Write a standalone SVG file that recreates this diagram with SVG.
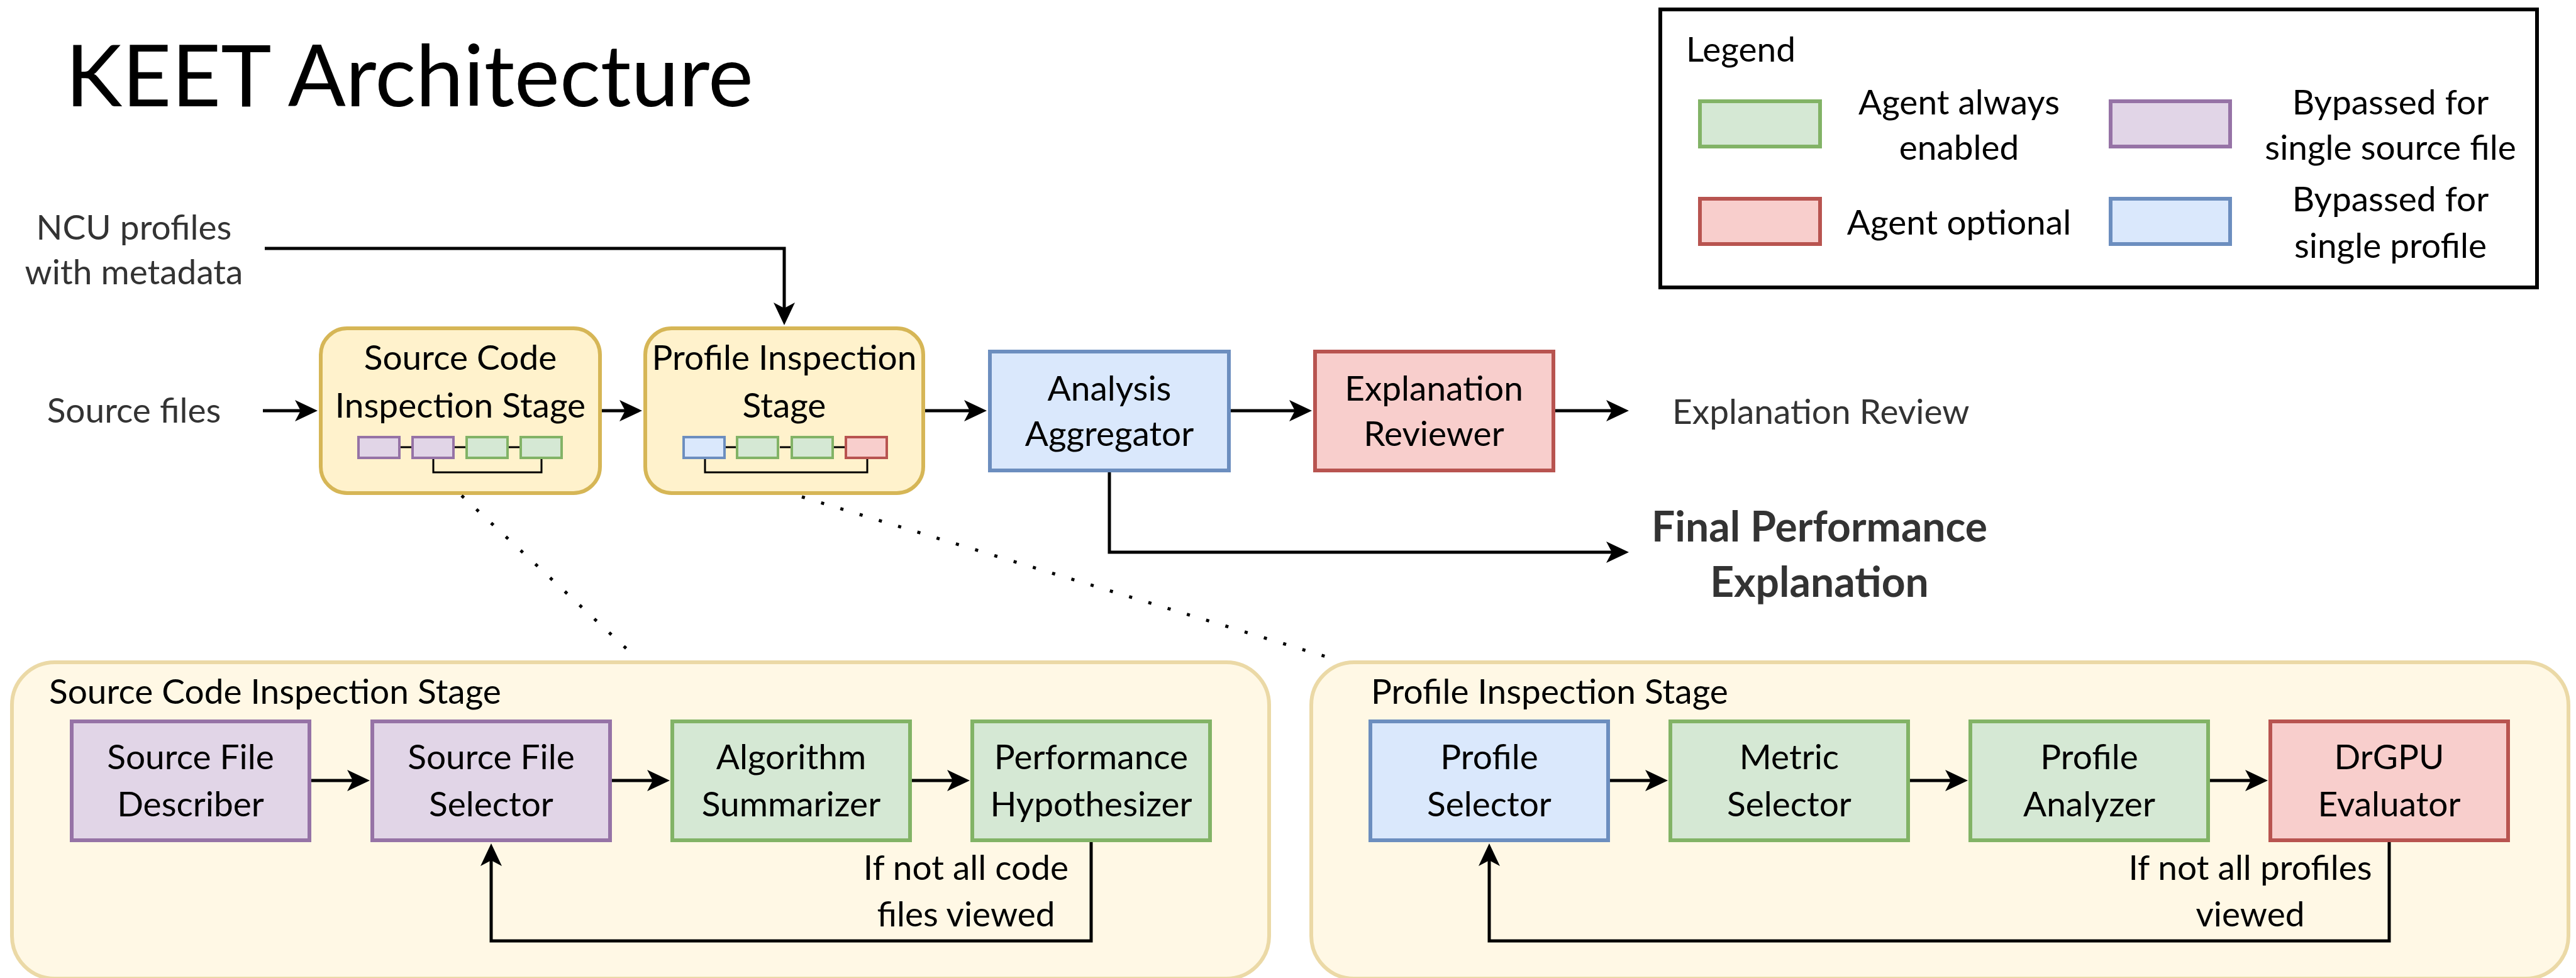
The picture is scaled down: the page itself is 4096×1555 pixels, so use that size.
<svg xmlns="http://www.w3.org/2000/svg" width="4096" height="1555" viewBox="0 0 4096 1555">
<defs>
<style>
text{font-family:Lato,"Open Sans","Liberation Sans",sans-serif;font-size:55px;fill:#000}
.c{text-anchor:middle}
.g{fill:#333333}
.green{fill:#d5e8d4;stroke:#82b366;stroke-width:6}
.purple{fill:#e1d5e7;stroke:#9673a6;stroke-width:6}
.red{fill:#f8cecc;stroke:#b85450;stroke-width:6}
.blue{fill:#dae8fc;stroke:#6c8ebf;stroke-width:6}
.stage{fill:#fff2cc;stroke:#d6b656;stroke-width:6}
.cont{fill:#fff8e5;stroke:#ebd9a6;stroke-width:6}
.mg{fill:#d5e8d4;stroke:#82b366;stroke-width:4}
.mp{fill:#e1d5e7;stroke:#9673a6;stroke-width:4}
.mr{fill:#f8cecc;stroke:#b85450;stroke-width:4}
.mb{fill:#dae8fc;stroke:#6c8ebf;stroke-width:4}
.ml{fill:none;stroke:#000;stroke-width:3}
.conn{fill:none;stroke:#000;stroke-width:5}
.dot{fill:none;stroke:#000;stroke-width:5;stroke-dasharray:5 27}
</style>
<marker id="ah" markerUnits="userSpaceOnUse" markerWidth="40" markerHeight="40" viewBox="-37 -20 40 40" refX="-27" refY="0" orient="auto">
<path d="M0,0 L-36,-17 L-27,0 L-36,17 Z" fill="#000"/>
</marker>
</defs>
<rect width="4096" height="1555" fill="#ffffff"/>

<g id="title"><text x="104" y="169" style="font-size:136px">KEET Architecture</text></g>

<g id="legend">
<rect x="2640" y="15" width="1394" height="442" fill="#fff" stroke="#000" stroke-width="6"/>
<text x="2681" y="98">Legend</text>
<rect class="green" x="2703" y="161" width="191" height="72"/>
<text class="c" x="3115" y="182">Agent always</text>
<text class="c" x="3115" y="254">enabled</text>
<rect class="red" x="2703" y="316" width="191" height="72"/>
<text class="c" x="3115" y="373">Agent optional</text>
<rect class="purple" x="3356" y="161" width="190" height="72"/>
<text class="c" x="3801" y="182">Bypassed for</text>
<text class="c" x="3801" y="254">single source file</text>
<rect class="blue" x="3356" y="316" width="190" height="72"/>
<text class="c" x="3801" y="336">Bypassed for</text>
<text class="c" x="3801" y="410">single profile</text>
</g>

<g id="ncu-input"><text class="c g" x="213" y="381">NCU profiles</text><text class="c g" x="213" y="452">with metadata</text></g>
<g id="source-files"><text class="c g" x="213" y="672">Source files</text></g>

<g id="source-stage">
<rect class="stage" x="510" y="522" width="444" height="262" rx="42"/>
<text class="c" x="732" y="588">Source Code</text>
<text class="c" x="732" y="664">Inspection Stage</text>
<path class="ml" d="M637,711 H654 M723,711 H740 M809,711 H826 M689,730 V751 H861 V730"/>
<rect class="mp" x="570" y="695" width="65" height="33"/>
<rect class="mp" x="656" y="695" width="65" height="33"/>
<rect class="mg" x="742" y="695" width="65" height="33"/>
<rect class="mg" x="828" y="695" width="65" height="33"/>
</g>

<g id="profile-stage">
<rect class="stage" x="1026" y="522" width="442" height="262" rx="42"/>
<text class="c" x="1247" y="588">Profile Inspection</text>
<text class="c" x="1247" y="664">Stage</text>
<path class="ml" d="M1154,711 H1170 M1240,711 H1257 M1326,711 H1343 M1121,730 V751 H1379 V730"/>
<rect class="mb" x="1087" y="695" width="65" height="33"/>
<rect class="mg" x="1172" y="695" width="65" height="33"/>
<rect class="mg" x="1259" y="695" width="65" height="33"/>
<rect class="mr" x="1345" y="695" width="65" height="33"/>
</g>

<g id="analysis-aggregator">
<rect class="blue" x="1574" y="559" width="380" height="189"/>
<text class="c" x="1764" y="637">Analysis</text>
<text class="c" x="1764" y="709">Aggregator</text>
</g>

<g id="explanation-reviewer">
<rect class="red" x="2091" y="559" width="379" height="189"/>
<text class="c" x="2280" y="637">Explanation</text>
<text class="c" x="2280" y="709">Reviewer</text>
</g>

<g id="explanation-review"><text class="g" x="2659" y="674">Explanation Review</text></g>
<g id="final-explanation">
<text class="c g" x="2893" y="861" style="font-weight:bold;font-size:66px">Final Performance</text>
<text class="c g" x="2893" y="949" style="font-weight:bold;font-size:66px">Explanation</text>
</g>

<g id="source-container">
<rect class="cont" x="19" y="1053" width="1999" height="503" rx="68"/>
<text x="78" y="1119">Source Code Inspection Stage</text>
</g>
<g id="profile-container">
<rect class="cont" x="2085" y="1053" width="1999" height="503" rx="68"/>
<text x="2180" y="1119">Profile Inspection Stage</text>
</g>

<g id="source-file-describer"><rect class="purple" x="114" y="1147" width="378" height="189"/><text class="c" x="303" y="1223">Source File</text><text class="c" x="303" y="1298">Describer</text></g>
<g id="source-file-selector"><rect class="purple" x="592" y="1147" width="378" height="189"/><text class="c" x="781" y="1223">Source File</text><text class="c" x="781" y="1298">Selector</text></g>
<g id="algorithm-summarizer"><rect class="green" x="1069" y="1147" width="378" height="189"/><text class="c" x="1258" y="1223">Algorithm</text><text class="c" x="1258" y="1298">Summarizer</text></g>
<g id="performance-hypothesizer"><rect class="green" x="1546" y="1147" width="378" height="189"/><text class="c" x="1735" y="1223">Performance</text><text class="c" x="1735" y="1298">Hypothesizer</text></g>

<g id="profile-selector"><rect class="blue" x="2179" y="1147" width="378" height="189"/><text class="c" x="2368" y="1223">Profile</text><text class="c" x="2368" y="1298">Selector</text></g>
<g id="metric-selector"><rect class="green" x="2656" y="1147" width="378" height="189"/><text class="c" x="2845" y="1223">Metric</text><text class="c" x="2845" y="1298">Selector</text></g>
<g id="profile-analyzer"><rect class="green" x="3133" y="1147" width="378" height="189"/><text class="c" x="3322" y="1223">Profile</text><text class="c" x="3322" y="1298">Analyzer</text></g>
<g id="drgpu-evaluator"><rect class="red" x="3610" y="1147" width="378" height="189"/><text class="c" x="3799" y="1223">DrGPU</text><text class="c" x="3799" y="1298">Evaluator</text></g>

<g id="connectors">
<path class="conn" marker-end="url(#ah)" d="M418,653 H478"/>
<path class="conn" marker-end="url(#ah)" d="M957,653 H994"/>
<path class="conn" marker-end="url(#ah)" d="M1471,653 H1542"/>
<path class="conn" marker-end="url(#ah)" d="M1957,653 H2059"/>
<path class="conn" marker-end="url(#ah)" d="M2473,653 H2563"/>
<path class="conn" marker-end="url(#ah)" d="M421,395 H1247 V490"/>
<path class="conn" marker-end="url(#ah)" d="M1764,751 V878 H2563"/>
<path class="conn" marker-end="url(#ah)" d="M495,1241 H561"/>
<path class="conn" marker-end="url(#ah)" d="M973,1241 H1038"/>
<path class="conn" marker-end="url(#ah)" d="M1450,1241 H1515"/>
<path class="conn" marker-end="url(#ah)" d="M2560,1241 H2625"/>
<path class="conn" marker-end="url(#ah)" d="M3037,1241 H3102"/>
<path class="conn" marker-end="url(#ah)" d="M3514,1241 H3579"/>
<path class="conn" marker-end="url(#ah)" d="M1735,1339 V1496 H781 V1368"/>
<path class="conn" marker-end="url(#ah)" d="M3799,1339 V1496 H2368 V1368"/>
<path class="dot" d="M734,788 L1014,1048"/>
<path class="dot" d="M1275,790 L2128,1050"/>
<text class="c" x="1536" y="1399">If not all code</text>
<text class="c" x="1536" y="1473">files viewed</text>
<text class="c" x="3578" y="1399">If not all profiles</text>
<text class="c" x="3578" y="1473">viewed</text>
</g>
</svg>
